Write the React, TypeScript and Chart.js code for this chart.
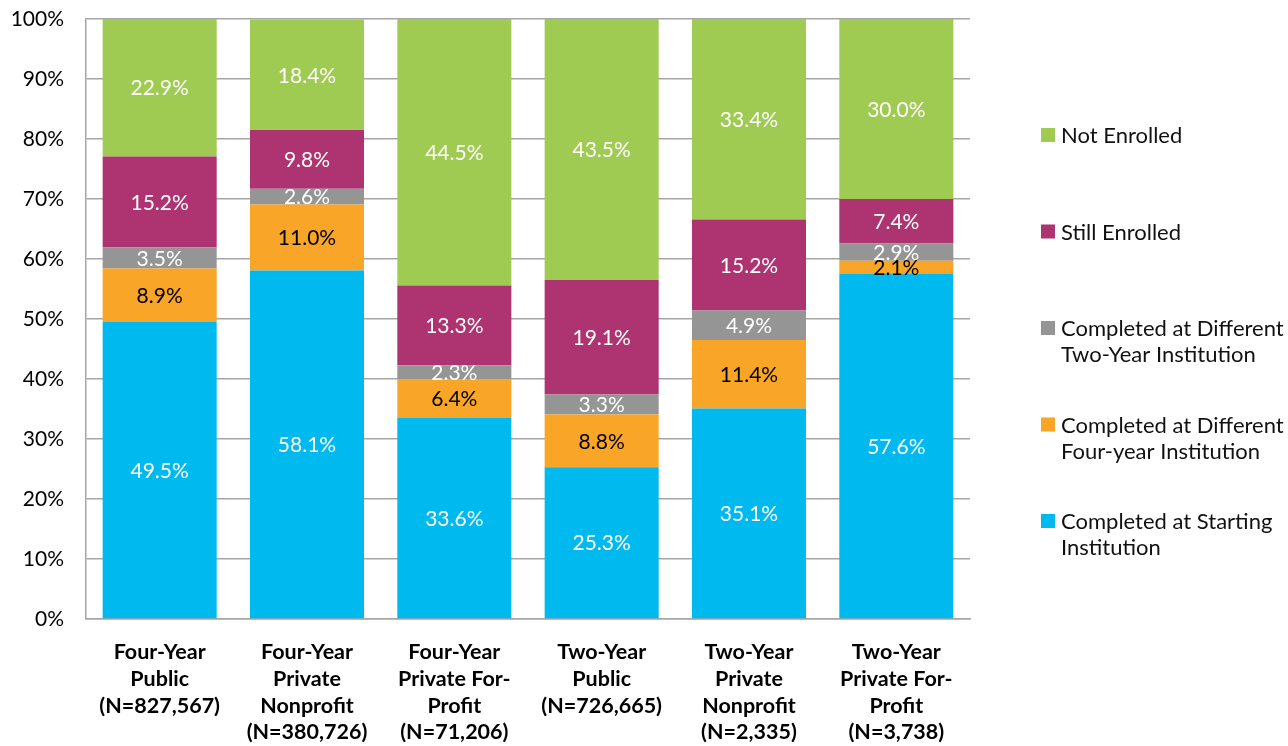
import React, { useEffect, useRef } from "react";
import { Chart, registerables } from "chart.js";

Chart.register(...registerables);

const categories: string[][] = [
  ["Four-Year", "Public", "(N=827,567)"],
  ["Four-Year", "Private", "Nonprofit", "(N=380,726)"],
  ["Four-Year", "Private For-", "Profit", "(N=71,206)"],
  ["Two-Year", "Public", "(N=726,665)"],
  ["Two-Year", "Private", "Nonprofit", "(N=2,335)"],
  ["Two-Year", "Private For-", "Profit", "(N=3,738)"],
];

const completedStarting = [49.5, 58.1, 33.6, 25.3, 35.1, 57.6];
const completedDiffFour = [8.9, 11.0, 6.4, 8.8, 11.4, 2.1];
const completedDiffTwo = [3.5, 2.6, 2.3, 3.3, 4.9, 2.9];
const stillEnrolled = [15.2, 9.8, 13.3, 19.1, 15.2, 7.4];
const notEnrolled = [22.9, 18.4, 44.5, 43.5, 33.4, 30.0];

const seriesNames: string[][] = [
  ["Completed at Starting", "Institution"],
  ["Completed at Different", "Four-year Institution"],
  ["Completed at Different", "Two-Year Institution"],
  ["Still Enrolled"],
  ["Not Enrolled"],
];

const yTicks = [0, 10, 20, 30, 40, 50, 60, 70, 80, 90, 100];

const colors = ["#00B9EF", "#F9A527", "#959595", "#AE3471", "#9FCB53"];
const labelColors = ["#FFFFFF", "#000000", "#FFFFFF", "#FFFFFF", "#FFFFFF"];

const FONT = "Lato, 'Open Sans', sans-serif";

const dataLabelPlugin = {
  id: "dataLabels",
  afterDatasetsDraw(chart: any) {
    const ctx = chart.ctx;
    ctx.save();
    ctx.font = `21px ${FONT}`;
    ctx.textAlign = "center";
    ctx.textBaseline = "middle";
    chart.data.datasets.forEach((ds: any, di: number) => {
      const meta = chart.getDatasetMeta(di);
      meta.data.forEach((bar: any, i: number) => {
        const v = ds.data[i];
        const { x, y, base } = bar.getProps(["x", "y", "base"], true);
        const top = Math.max(y, chart.chartArea.top);
        ctx.fillStyle = labelColors[di];
        ctx.fillText(v.toFixed(1) + "%", x, (top + base) / 2 + 1);
      });
    });
    ctx.restore();
  },
};

const legendPlugin = {
  id: "sideLegend",
  afterDraw(chart: any) {
    const ctx = chart.ctx;
    const area = chart.chartArea;
    ctx.save();
    ctx.font = `22px ${FONT}`;
    ctx.textAlign = "left";
    ctx.textBaseline = "middle";
    const x0 = area.right + 71;
    const startY = area.top + 116;
    const step = 96.5;
    const n = seriesNames.length;
    for (let k = 0; k < n; k++) {
      const di = n - 1 - k;
      const cy = startY + k * step;
      ctx.fillStyle = colors[di];
      ctx.fillRect(x0, cy - 7, 14, 14);
      ctx.fillStyle = "#111111";
      seriesNames[di].forEach((line, li) => {
        ctx.fillText(line, x0 + 20, cy + li * 26 + 1);
      });
    }
    ctx.restore();
  },
};

export default function App() {
  const ref = useRef<HTMLCanvasElement | null>(null);

  useEffect(() => {
    if (!ref.current) return;
    const values = [completedStarting, completedDiffFour, completedDiffTwo, stillEnrolled, notEnrolled];
    const chart = new Chart(ref.current, {
      type: "bar",
      data: {
        labels: categories,
        datasets: values.map((d, i) => ({
          label: seriesNames[i].join(" "),
          data: d,
          backgroundColor: colors[i],
          borderWidth: 0,
          barPercentage: 0.774,
          categoryPercentage: 1,
        })),
      },
      options: {
        responsive: false,
        animation: false,
        layout: { autoPadding: false, padding: { left: 4, right: 318, top: 19, bottom: 0 } },
        plugins: {
          legend: { display: false },
          tooltip: { enabled: false },
        },
        scales: {
          x: {
            stacked: true,
            grid: { display: false, drawTicks: false },
            border: { display: true, color: "#A6A6A6", width: 1.5 },
            ticks: {
              font: { family: FONT, size: 21.5, weight: "bold", lineHeight: 1.24 },
              color: "#000000",
              padding: 20,
              autoSkip: false,
              maxRotation: 0,
            },
            afterFit: (s: any) => {
              s.height = 127;
              s.paddingLeft = 0;
              s.paddingRight = 0;
              s.paddingTop = 0;
              s.paddingBottom = 0;
            },
          },
          y: {
            stacked: true,
            min: 0,
            max: 100,
            afterBuildTicks: (s: any) => {
              s.ticks = yTicks.map((v) => ({ value: v }));
            },
            grid: { color: "#A6A6A6", lineWidth: 1.5, drawTicks: false },
            border: { display: true, color: "#A6A6A6", width: 1.5 },
            ticks: {
              font: { family: FONT, size: 21 },
              color: "#000000",
              padding: 22,
              callback: (v: any) => v + "%",
            },
            afterFit: (s: any) => {
              s.width = 82;
              s.paddingTop = 0;
              s.paddingBottom = 0;
              s.paddingLeft = 0;
              s.paddingRight = 0;
            },
          },
        },
      },
      plugins: [dataLabelPlugin, legendPlugin],
    });
    return () => chart.destroy();
  }, []);

  return (
    <div style={{ position: "absolute", left: 0, top: 0, width: 1288, height: 746, background: "#fff" }}>
      <canvas ref={ref} width={1288} height={746} />
    </div>
  );
}
